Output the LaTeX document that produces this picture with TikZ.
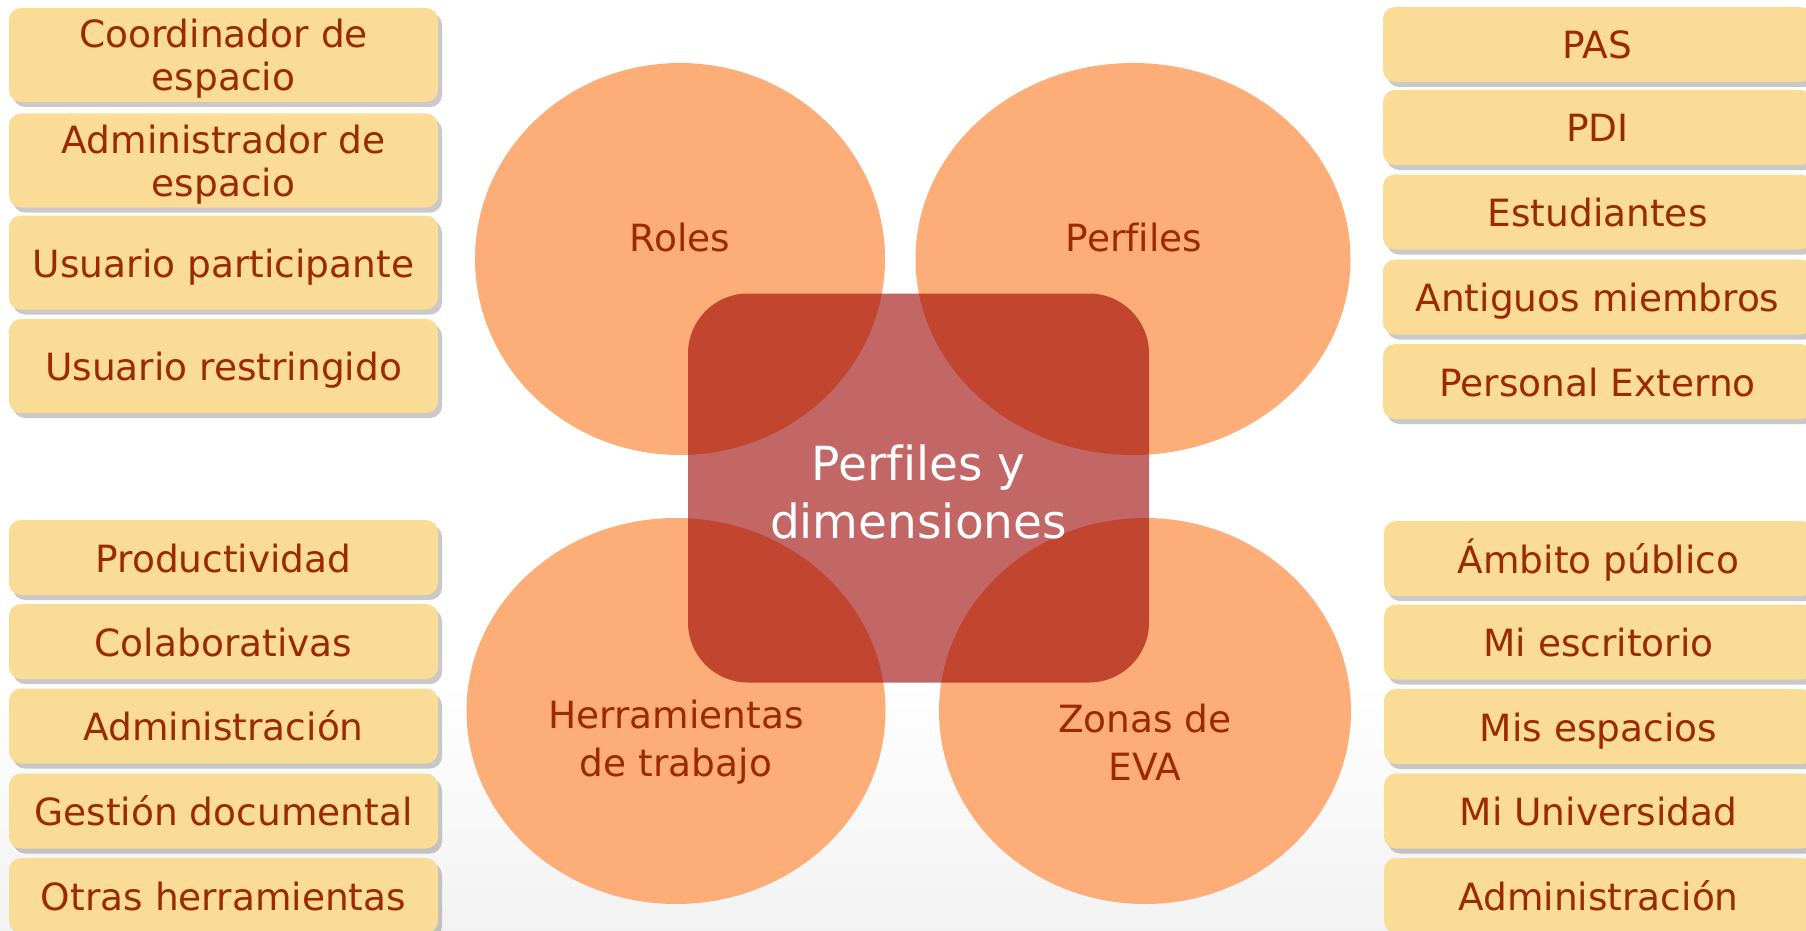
\documentclass[tikz,border=0pt]{standalone}
\usepackage{fontspec}
\setmainfont[Ligatures=NoCommon]{DejaVu Sans}
\usetikzlibrary{shapes.geometric,shadows}
\definecolor{boxfill}{HTML}{FADC96}
\definecolor{boxtext}{HTML}{9C2A00}
\definecolor{blobfill}{HTML}{FDAE78}
\definecolor{corered}{RGB}{155,0,0}

\begin{document}
\begin{tikzpicture}[x=1pt,y=-1pt,
 item/.style={fill=boxfill,rounded corners=12pt,minimum width=429pt,minimum height=75pt,inner sep=0pt,align=center,
  text=boxtext,font=\fontsize{37.5}{43}\selectfont,text height=38pt,text depth=9pt,
  drop shadow={shadow xshift=4pt,shadow yshift=-5pt,opacity=0.3,fill=black!70}},
 tall/.style={item,minimum height=94pt},
 twoline/.style={tall,text height=81pt},
 blob/.style={ellipse,fill=blobfill,inner sep=0pt},
 blobtxt/.style={align=center,text=boxtext,font=\fontsize{37.5}{48}\selectfont},
 core/.style={fill=corered,fill opacity=0.6,rounded corners=60pt,minimum width=461pt,minimum height=389pt}]
\useasboundingbox (0,0) rectangle (1806,931);
\fill[top color=white,bottom color=black!5] (0,680) rectangle (1806,931);
% the four dimensions
\node[blob,minimum width=410pt,minimum height=392pt] (roles) at (680,259) {};
\node[blob,minimum width=435pt,minimum height=392pt] (perf) at (1133,259) {};
\node[blob,minimum width=419pt,minimum height=386pt] (herr) at (676,711) {};
\node[blob,minimum width=412pt,minimum height=386pt] (zonas) at (1145,711) {};
\node[core] (core) at (918.5,488) {};
\node[align=center,text=white,font=\fontsize{47}{58}\selectfont] (coret) at (918.5,492) {Perfiles y\\dimensiones};
\node[blobtxt] (rolest) at (680,238) {Roles};
\node[blobtxt] (perft) at (1134,238) {Perfiles};
\node[blobtxt] (herrt) at (676,742) {Herramientas\\de trabajo};
\node[blobtxt] (zonast) at (1145,742) {Zonas de\\EVA};
% roles
\node[twoline] (rol1) at (223.5,55) {Coordinador de\\espacio};
\node[twoline] (rol2) at (223.5,160.5) {Administrador de\\espacio};
\node[tall] (rol3) at (223.5,262.5) {Usuario participante};
\node[tall] (rol4) at (223.5,366) {Usuario restringido};
% perfiles
\node[item] (perf1) at (1597.5,44.5) {PAS};
\node[item] (perf2) at (1597.5,127.5) {PDI};
\node[item] (perf3) at (1597.5,212) {Estudiantes};
\node[item] (perf4) at (1597.5,297) {Antiguos miembros};
\node[item] (perf5) at (1597.5,381.5) {Personal Externo};
% herramientas
\node[item] (herr1) at (223.5,557.5) {Productividad};
\node[item] (herr2) at (223.5,641.5) {Colaborativas};
\node[item] (herr3) at (223.5,726) {Administración};
\node[item] (herr4) at (223.5,811) {Gestión documental};
\node[item] (herr5) at (223.5,895.5) {Otras herramientas};
% zonas
\node[item] (zona1) at (1598.5,558.5) {Ámbito público};
\node[item] (zona2) at (1598.5,642) {Mi escritorio};
\node[item] (zona3) at (1598.5,726.5) {Mis espacios};
\node[item] (zona4) at (1598.5,811) {Mi Universidad};
\node[item] (zona5) at (1598.5,895.5) {Administración};
\end{tikzpicture}
\end{document}
